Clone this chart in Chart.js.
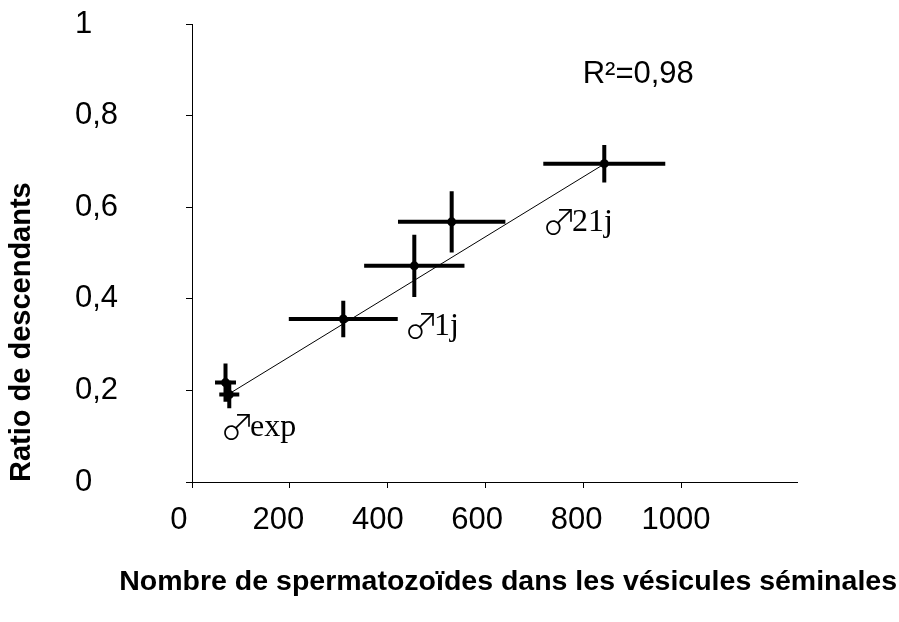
<!DOCTYPE html>
<html><head><meta charset="utf-8">
<script src="https://cdn.jsdelivr.net/npm/chart.js@4/dist/chart.umd.min.js"></script>
<style>html,body{margin:0;padding:0;background:#fff}#wrap{width:899px;height:622px;position:relative}</style>
</head><body><div id="wrap"><canvas id="c"></canvas></div>
<script>
// ---- data ----
const spermCount     = [68.4, 76.1, 308.8, 453.8, 530.1, 841.6];
const offspringRatio = [0.217, 0.191, 0.356, 0.472, 0.568, 0.695];
const spermErr       = [21.4, 20.4, 111.2, 102.4, 109.6, 124.5];
const ratioErr       = [0.042, 0.030, 0.040, 0.068, 0.067, 0.041];
const trendX = [81, 841];
const trendY = [0.196, 0.694];
const xTicks = [0, 200, 400, 600, 800, 1000];
const xTickLabels = ['0', '200', '400', '600', '800', '1000'];
const yTicks = [0, 0.2, 0.4, 0.6, 0.8, 1];
const yTickLabels = ['0', '0,2', '0,4', '0,6', '0,8', '1'];
const noteSymbols = ['\u2642', '\u2642', '\u2642', ''];
const noteTexts = ['exp', '1j', '21j', 'R\u00B2=0,98'];
const noteX = [69.4, 445, 726.7, 797.5];
const noteY = [0.100, 0.321, 0.548, 0.889];

// ---- styles ----
const SANS = "'Liberation Sans', Arial, sans-serif";
const SYMBOL_FONT = "300 35px 'Noto Sans CJK JP'";
const SERIF_FONT = "32px 'Liberation Serif', serif";
const noteFonts = [SERIF_FONT, SERIF_FONT, SERIF_FONT, "31px " + SANS];
const noteBaselines = ['alphabetic', 'alphabetic', 'alphabetic', 'middle'];

const hBars = [], vBars = [];
spermCount.forEach((x, i) => {
  const y = offspringRatio[i];
  hBars.push({x: x - spermErr[i], y: y}, {x: x + spermErr[i], y: y}, {x: x, y: null});
  vBars.push({x: x, y: y - ratioErr[i]}, {x: x, y: y + ratioErr[i]}, {x: x, y: null});
});
const points = spermCount.map((x, i) => ({x: x, y: offspringRatio[i]}));
const trend = trendX.map((x, i) => ({x: x, y: trendY[i]}));

const notesPlugin = {
  id: 'notes',
  afterDatasetsDraw(chart) {
    const ctx = chart.ctx, xs = chart.scales.xt, ys = chart.scales.y;
    ctx.save();
    ctx.fillStyle = '#000';
    ctx.textAlign = 'left';
    noteTexts.forEach((t, i) => {
      let px = xs.getPixelForValue(noteX[i]);
      const py = ys.getPixelForValue(noteY[i]);
      ctx.textBaseline = noteBaselines[i];
      if (noteSymbols[i]) {
        ctx.font = SYMBOL_FONT;
        ctx.fillText(noteSymbols[i], px - 6, py + 4);
        px += 24;
      }
      ctx.font = noteFonts[i];
      ctx.fillText(t, px, py);
    });
    ctx.restore();
  }
};

new Chart(document.getElementById('c'), {
  type: 'scatter',
  data: {
    datasets: [
      {type: 'scatter', data: points, xAxisID: 'xt', yAxisID: 'y',
       pointRadius: 4.5, pointHoverRadius: 4.5, pointBackgroundColor: '#000', pointBorderColor: '#000', pointBorderWidth: 0},
      {type: 'line', data: hBars, xAxisID: 'xt', yAxisID: 'y', borderColor: '#000', borderWidth: 4,
       pointRadius: 0, spanGaps: false, fill: false, borderCapStyle: 'butt'},
      {type: 'line', data: vBars, xAxisID: 'xt', yAxisID: 'y', borderColor: '#000', borderWidth: 4,
       pointRadius: 0, spanGaps: false, fill: false, borderCapStyle: 'butt'},
      {type: 'line', data: trend, xAxisID: 'xt', yAxisID: 'y', borderColor: '#000', borderWidth: 1,
       pointRadius: 0, fill: false}
    ]
  },
  options: {
    responsive: true, maintainAspectRatio: false, animation: false, devicePixelRatio: 1,
    layout: {padding: {top: 24, right: 2, bottom: 0, left: 0}},
    plugins: {
      legend: {display: false}, tooltip: {enabled: false},
      title: {display: true, text: 'Ratio de descendants', position: 'left', align: 'start', fullSize: false,
              font: {family: SANS, size: 29, weight: 'bold'}, color: '#000', padding: {top: 5, bottom: 35.2}},
      subtitle: {display: true, text: 'Nombre de spermatozoïdes dans les vésicules séminales', position: 'bottom', align: 'end',
              font: {family: SANS, size: 28.5, weight: 'bold'}, color: '#000', padding: {top: 0, bottom: 22.9}}
    },
    scales: {
      xt: {type: 'linear', position: 'bottom', weight: 0, min: 0, max: 1235, bounds: 'data',
        afterBuildTicks: s => { s.ticks = xTicks.map(v => ({value: v})); },
        ticks: {display: false},
        grid: {display: true, drawOnChartArea: false, drawTicks: true, tickLength: 6, color: '#000', lineWidth: 1},
        border: {display: true, color: '#000', width: 1},
        afterFit: s => { s.height = 6; }
      },
      x: {type: 'linear', position: 'bottom', weight: 1, min: 26.2, max: 1243.5, bounds: 'data',
        afterBuildTicks: s => { s.ticks = xTicks.map(v => ({value: v})); },
        ticks: {autoSkip: false, maxRotation: 0, font: {family: SANS, size: 31}, color: '#000', padding: 14,
                callback: (v, i) => xTickLabels[i]},
        grid: {display: false, drawTicks: false},
        border: {display: false},
        afterFit: s => { s.height = 76.9; }
      },
      y: {type: 'linear', position: 'left', min: 0, max: 1, bounds: 'data',
        afterBuildTicks: s => { s.ticks = yTicks.map(v => ({value: v})); },
        ticks: {crossAlign: 'far', autoSkip: false, font: {family: SANS, size: 31}, color: '#000',
                callback: (v, i) => yTickLabels[i]},
        grid: {drawOnChartArea: false, drawTicks: true, tickLength: 6, color: '#000', lineWidth: 1},
        border: {display: true, color: '#000', width: 1},
        afterFit: s => { s.width = 117; }
      },
      yr: {type: 'linear', position: 'right', display: true, min: 0, max: 1,
        ticks: {display: false}, grid: {display: false}, border: {display: false},
        afterFit: s => { s.width = 100; }
      }
    }
  },
  plugins: [notesPlugin]
});
</script>
</body></html>
